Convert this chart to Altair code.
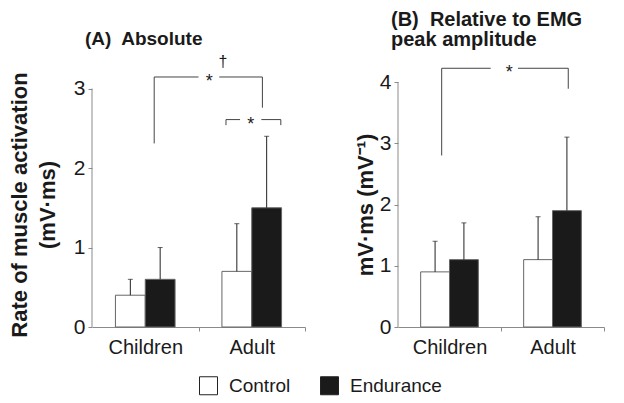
import altair as alt
import pandas as pd

FONT = "Liberation Sans"
INK = "#1a1a1a"
AXIS = "#8a8a8a"

# ---- data -------------------------------------------------------------
groups = ["Children", "Adult"]
series = ["Control", "Endurance"]

# order: Children-Control, Children-Endurance, Adult-Control, Adult-Endurance
abs_mean = [0.4, 0.6, 0.7, 1.5]
abs_upper = [0.6, 1.0, 1.3, 2.4]
rel_mean = [0.9, 1.1, 1.1, 1.9]
rel_upper = [1.4, 1.7, 1.8, 3.1]

# significance brackets (x in group units: Children 0-1, Adult 1-2)
a_seg_x1 = [0.584, 0.584, 1.195, 1.60, 1.258, 1.258, 1.59, 1.773]
a_seg_x2 = [0.584, 1.00, 1.60, 1.60, 1.258, 1.39, 1.773, 1.773]
a_seg_y1 = [2.31, 3.146, 3.146, 2.76, 2.54, 2.61, 2.61, 2.54]
a_seg_y2 = [3.146, 3.146, 3.146, 3.146, 2.61, 2.61, 2.61, 2.61]
a_star_x = [1.10, 1.49]
a_star_y = [3.146, 2.61]
a_dagger_x = [1.23]
a_dagger_y = [3.33]

b_seg_x1 = [0.424, 0.424, 1.165, 1.653]
b_seg_x2 = [0.424, 0.90, 1.653, 1.653]
b_seg_y1 = [2.80, 4.224, 4.224, 3.89]
b_seg_y2 = [4.224, 4.224, 4.224, 4.224]
b_star_x = [1.08]
b_star_y = [4.224]

BAR_W = 0.28


def bars_df(means, uppers):
    rows = []
    for gi, g in enumerate(groups):
        for si, s in enumerate(series):
            k = gi * len(series) + si
            rows.append(dict(group=g, series=s, gi=gi, si=si,
                             mean=means[k], upper=uppers[k]))
    return pd.DataFrame(rows)


def panel(means, uppers, sx1, sx2, sy1, sy2, stx, sty, dgx, dgy,
          ymax, ytop, y_title, y_title_size, y_title_pad, title_lines, title_size,
          title_offset, width, height, show_legend):
    xscale = alt.Scale(domain=[0, 2], nice=False, zero=False)
    yscale = alt.Scale(domain=[0, ytop], nice=False, zero=True)
    label_expr = (f"datum.value == 0.5 ? '{groups[0]}' : "
                  f"datum.value == 1.5 ? '{groups[1]}' : ''")
    xaxis = alt.Axis(values=[0.5, 1, 1.5, 2], labelExpr=label_expr,
                     tickOpacity={"condition": {"test": "datum.value % 1 == 0", "value": 1}, "value": 0},
                     grid=False, title=None, labelFlush=False, labelOverlap=False,
                     labelFontSize=20, labelPadding=6)
    yvals = [i * 0.5 for i in range(int(ymax * 2) + 1)]
    yaxis = alt.Axis(values=yvals, format="d",
                     labelExpr="datum.value % 1 == 0 ? datum.label : ''",
                     grid=False, domain=False, title=y_title, titleFontSize=y_title_size,
                     titleFontWeight="bold", titleLineHeight=28, titlePadding=y_title_pad,
                     labelFontSize=21, labelPadding=3, labelOverlap=False)

    base = alt.Chart(bars_df(means, uppers)).transform_calculate(
        x0=f"datum.gi + 0.5 + (datum.si - 1) * {BAR_W}",
        x1=f"datum.gi + 0.5 + datum.si * {BAR_W}",
        xc=f"datum.gi + 0.5 + (datum.si - 0.5) * {BAR_W}",
    )
    legend = (alt.Legend(orient="none", legendX=107, legendY=294, direction="horizontal",
                         title=None, symbolType="square", symbolSize=324,
                         symbolStrokeColor="#222", symbolStrokeWidth=1,
                         labelFontSize=19, labelFont=FONT, labelColor=INK,
                         labelOffset=11, columnPadding=27)
              if show_legend else None)
    bars = base.mark_bar(stroke="#666", strokeWidth=1).encode(
        x=alt.X("x0:Q", scale=xscale, axis=xaxis),
        x2="x1:Q",
        y=alt.Y("mean:Q", scale=yscale, axis=yaxis),
        y2=alt.datum(0),
        fill=alt.Fill("series:N", scale=alt.Scale(domain=series, range=["white", INK]),
                      legend=legend),
    )
    err = base.mark_rule(color="#222", strokeWidth=1).encode(
        x="xc:Q", y="mean:Q", y2="upper:Q")
    cap = base.mark_tick(orient="horizontal", size=5, thickness=1, color="#222").encode(
        x="xc:Q", y="upper:Q")

    axis_line = alt.Chart(pd.DataFrame({"y0": [0], "y1": [ymax]})).mark_rule(
        color=AXIS, strokeWidth=1).encode(x=alt.datum(0), y="y0:Q", y2="y1:Q")

    seg = alt.Chart(pd.DataFrame({"x1": sx1, "x2": sx2, "y1": sy1, "y2": sy2})).mark_rule(
        color="#444", strokeWidth=1).encode(x="x1:Q", x2="x2:Q", y="y1:Q", y2="y2:Q")
    stars = alt.Chart(pd.DataFrame({"x": stx, "y": sty, "t": ["*"] * len(stx)})).mark_text(
        fontSize=18, font=FONT, color=INK, baseline="middle", dy=5).encode(
        x="x:Q", y="y:Q", text="t:N")
    layers = [bars, err, cap, axis_line, seg, stars]
    if dgx:
        dag = alt.Chart(pd.DataFrame({"x": dgx, "y": dgy, "t": ["\u2020"] * len(dgx)})).mark_text(
            fontSize=16, font=FONT, color=INK, baseline="middle").encode(
            x="x:Q", y="y:Q", text="t:N")
        layers.append(dag)

    return alt.layer(*layers).properties(
        width=width, height=height,
        title=alt.TitleParams(title_lines, anchor="start", frame="group", dx=-7,
                              fontSize=title_size, font=FONT, fontWeight="bold",
                              color=INK, offset=title_offset, lineHeight=20),
    )


H = 245
pA = panel(abs_mean, abs_upper, a_seg_x1, a_seg_x2, a_seg_y1, a_seg_y2,
           a_star_x, a_star_y, a_dagger_x, a_dagger_y,
           ymax=3, ytop=3 * H / 238.4, y_title=["Rate of muscle activation", "(mV\u00b7ms)"],
           y_title_size=22, y_title_pad=14, title_lines=["(A)\u00a0 Absolute"], title_size=19,
           title_offset=5, width=213, height=H, show_legend=True)
pB = panel(rel_mean, rel_upper, b_seg_x1, b_seg_x2, b_seg_y1, b_seg_y2,
           b_star_x, b_star_y, [], [],
           ymax=4, ytop=4, y_title="mV\u00b7ms (mV\u207b\u00b9)",
           y_title_size=22, y_title_pad=2,
           title_lines=["(B)\u00a0 Relative to EMG", "\u00a0" * 7 + "peak amplitude"],
           title_size=20, title_offset=14, width=206, height=H, show_legend=False)

chart = alt.hconcat(pA, pB, spacing=48).resolve_scale(fill="shared").properties(
    padding={"left": 0, "top": 2, "right": 0, "bottom": 0},
    background="white",
).configure_view(stroke=None).configure_axis(
    domainColor=AXIS, tickColor=AXIS, tickSize=4, labelFont=FONT, titleFont=FONT,
    labelColor=INK, titleColor=INK,
)

chart.save("out.html", embed_options={"renderer": "svg", "actions": False})
